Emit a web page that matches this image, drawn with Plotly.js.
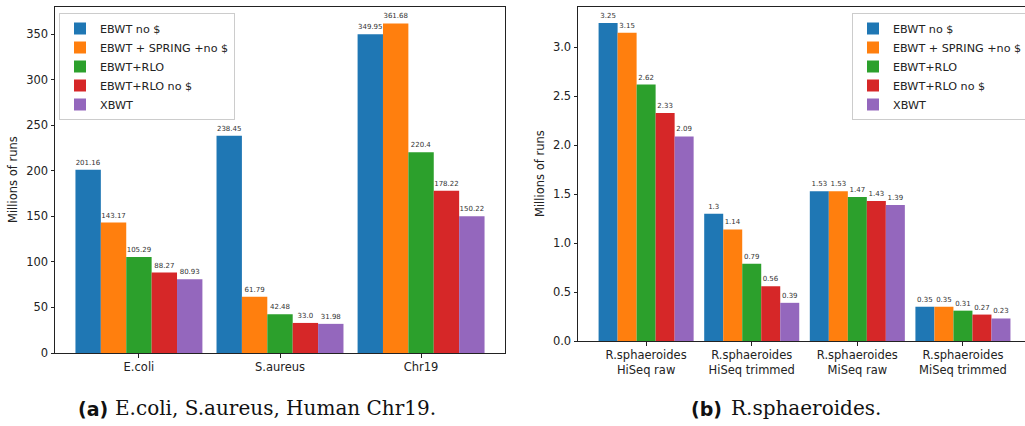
<!DOCTYPE html>
<html>
<head>
<meta charset="utf-8">
<script src="https://cdn.plot.ly/plotly-3.0.1.min.js"></script>
<style>html,body{margin:0;padding:0;background:#fff;overflow:hidden;width:1025px;height:426px;}#chart{width:1025px;height:426px;overflow:hidden;}</style>
</head>
<body>
<div id="chart"></div>
<script>
var seriesNames = ['EBWT no $', 'EBWT + SPRING +no $', 'EBWT+RLO', 'EBWT+RLO no $', 'XBWT'];
var colors = ['#1f77b4', '#ff7f0e', '#2ca02c', '#d62728', '#9467bd'];

var leftCategories = ['E.coli', 'S.aureus', 'Chr19'];
var leftEbwtNo = [201.16, 238.45, 349.95];
var leftSpring = [143.17, 61.79, 361.68];
var leftRlo = [105.29, 42.48, 220.4];
var leftRloNo = [88.27, 33.0, 178.22];
var leftXbwt = [80.93, 31.98, 150.22];

var rightCategories = ['R.sphaeroides<br>HiSeq raw', 'R.sphaeroides<br>HiSeq trimmed', 'R.sphaeroides<br>MiSeq raw', 'R.sphaeroides<br>MiSeq trimmed'];
var rightEbwtNo = [3.25, 1.3, 1.53, 0.35];
var rightSpring = [3.15, 1.14, 1.53, 0.35];
var rightRlo = [2.62, 0.79, 1.47, 0.31];
var rightRloNo = [2.33, 0.56, 1.43, 0.27];
var rightXbwt = [2.09, 0.39, 1.39, 0.23];

var leftTicks = [0, 50, 100, 150, 200, 250, 300, 350];
var rightTicks = [0, 0.5, 1.0, 1.5, 2.0, 2.5, 3.0];

function fmt(v) { return Number.isInteger(v) ? v.toFixed(1) : String(v); }

var leftSeries = [leftEbwtNo, leftSpring, leftRlo, leftRloNo, leftXbwt];
var rightSeries = [rightEbwtNo, rightSpring, rightRlo, rightRloNo, rightXbwt];

var traces = [];
leftSeries.forEach(function (vals, i) {
  traces.push({
    type: 'bar', x: leftCategories.map(function(c, k){return k;}), y: vals, name: seriesNames[i],
    marker: {color: colors[i], line: {width: 0}},
    text: vals.map(fmt), textposition: 'outside', cliponaxis: false, constraintext: 'none',
    textfont: {family: 'DejaVu Sans', size: 7, color: '#333'},
    xaxis: 'x', yaxis: 'y', legend: 'legend', hoverinfo: 'none'
  });
});
rightSeries.forEach(function (vals, i) {
  traces.push({
    type: 'bar', x: rightCategories.map(function(c, k){return k;}), y: vals, name: seriesNames[i],
    marker: {color: colors[i], line: {width: 0}},
    text: vals.map(fmt), textposition: 'outside', cliponaxis: false, constraintext: 'none',
    textfont: {family: 'DejaVu Sans', size: 7, color: '#333'},
    xaxis: 'x2', yaxis: 'y2', legend: 'legend2', hoverinfo: 'none'
  });
});

var axFont = {family: 'DejaVu Sans', size: 11.5, color: '#222'};
var legFont = {family: 'DejaVu Sans', size: 11.2, color: '#222'};
var W = 1025, H = 426;
var layout = {
  width: W, height: H,
  margin: {l: 0, r: 0, t: 0, b: 0, autoexpand: false},
  paper_bgcolor: '#fff', plot_bgcolor: '#fff',
  barmode: 'group', bargap: 0.1, bargroupgap: 0,
  font: axFont,
  xaxis: {
    domain: [55 / W, 505 / W], range: [-0.595, 2.595], anchor: 'y',
    tickmode: 'array', tickvals: [0, 1, 2], ticktext: leftCategories,
    ticks: 'outside', ticklen: 3.5, tickcolor: '#222', showline: true, linecolor: '#222', linewidth: 1,
    mirror: true, showgrid: false, zeroline: false, tickfont: axFont, automargin: false
  },
  yaxis: {
    domain: [1 - 353 / H, 1 - 7 / H], range: [0, 379.764], anchor: 'x',
    tickmode: 'array', tickvals: leftTicks, ticktext: leftTicks.map(String),
    ticks: 'outside', ticklen: 3.5, tickcolor: '#222', showline: true, linecolor: '#222', linewidth: 1,
    mirror: true, showgrid: false, zeroline: false, tickfont: axFont, automargin: false
  },
  xaxis2: {
    domain: [578 / W, 1], range: [-0.645, 3 + (1025 - 963) / 105.5], anchor: 'y2',
    tickmode: 'array', tickvals: [0, 1, 2, 3], ticktext: rightCategories,
    ticks: 'outside', ticklen: 3.5, tickcolor: '#222', showline: true, linecolor: '#222', linewidth: 1,
    mirror: true, showgrid: false, zeroline: false, tickfont: axFont, automargin: false
  },
  yaxis2: {
    domain: [1 - 341 / H, 1 - 7 / H], range: [0, 3.4125], anchor: 'x2',
    tickmode: 'array', tickvals: rightTicks, ticktext: rightTicks.map(function(v){return v.toFixed(1);}),
    ticks: 'outside', ticklen: 3.5, tickcolor: '#222', showline: true, linecolor: '#222', linewidth: 1,
    mirror: false, showgrid: false, zeroline: false, tickfont: axFont, automargin: false
  },
  legend: {
    x: 59 / W, y: 1 - 13 / H, xanchor: 'left', yanchor: 'top',
    bgcolor: 'rgba(255,255,255,0.8)', bordercolor: '#ccc', borderwidth: 1,
    font: legFont, tracegroupgap: 0
  },
  legend2: {
    x: 852 / W, y: 1 - 13 / H, xanchor: 'left', yanchor: 'top',
    bgcolor: 'rgba(255,255,255,0.8)', bordercolor: '#ccc', borderwidth: 1,
    font: legFont, tracegroupgap: 0
  },
  annotations: [
    {text: 'Millions of runs', xref: 'paper', yref: 'paper', x: 13 / W, y: 1 - 180 / H, textangle: -90,
     showarrow: false, xanchor: 'center', yanchor: 'middle', font: axFont},
    {text: 'Millions of runs', xref: 'paper', yref: 'paper', x: 540 / W, y: 1 - 174 / H, textangle: -90,
     showarrow: false, xanchor: 'center', yanchor: 'middle', font: axFont},
    {text: '<b>(a)</b>', xref: 'paper', yref: 'paper', x: 76 / W, y: 1 - 409 / H, showarrow: false,
     xanchor: 'left', yanchor: 'middle', font: {family: 'DejaVu Sans', size: 19, color: '#111'}},
    {text: 'E.coli, S.aureus, Human Chr19.', xref: 'paper', yref: 'paper', x: 113 / W, y: 1 - 408 / H, showarrow: false,
     xanchor: 'left', yanchor: 'middle', font: {family: 'DejaVu Serif', size: 20, color: '#111'}},
    {text: '<b>(b)</b>', xref: 'paper', yref: 'paper', x: 689 / W, y: 1 - 409 / H, showarrow: false,
     xanchor: 'left', yanchor: 'middle', font: {family: 'DejaVu Sans', size: 19, color: '#111'}},
    {text: 'R.sphaeroides.', xref: 'paper', yref: 'paper', x: 729 / W, y: 1 - 408 / H, showarrow: false,
     xanchor: 'left', yanchor: 'middle', font: {family: 'DejaVu Serif', size: 20, color: '#111'}}
  ],
  showlegend: true
};

Plotly.newPlot('chart', traces, layout, {displayModeBar: false, staticPlot: true});
</script>
</body>
</html>
